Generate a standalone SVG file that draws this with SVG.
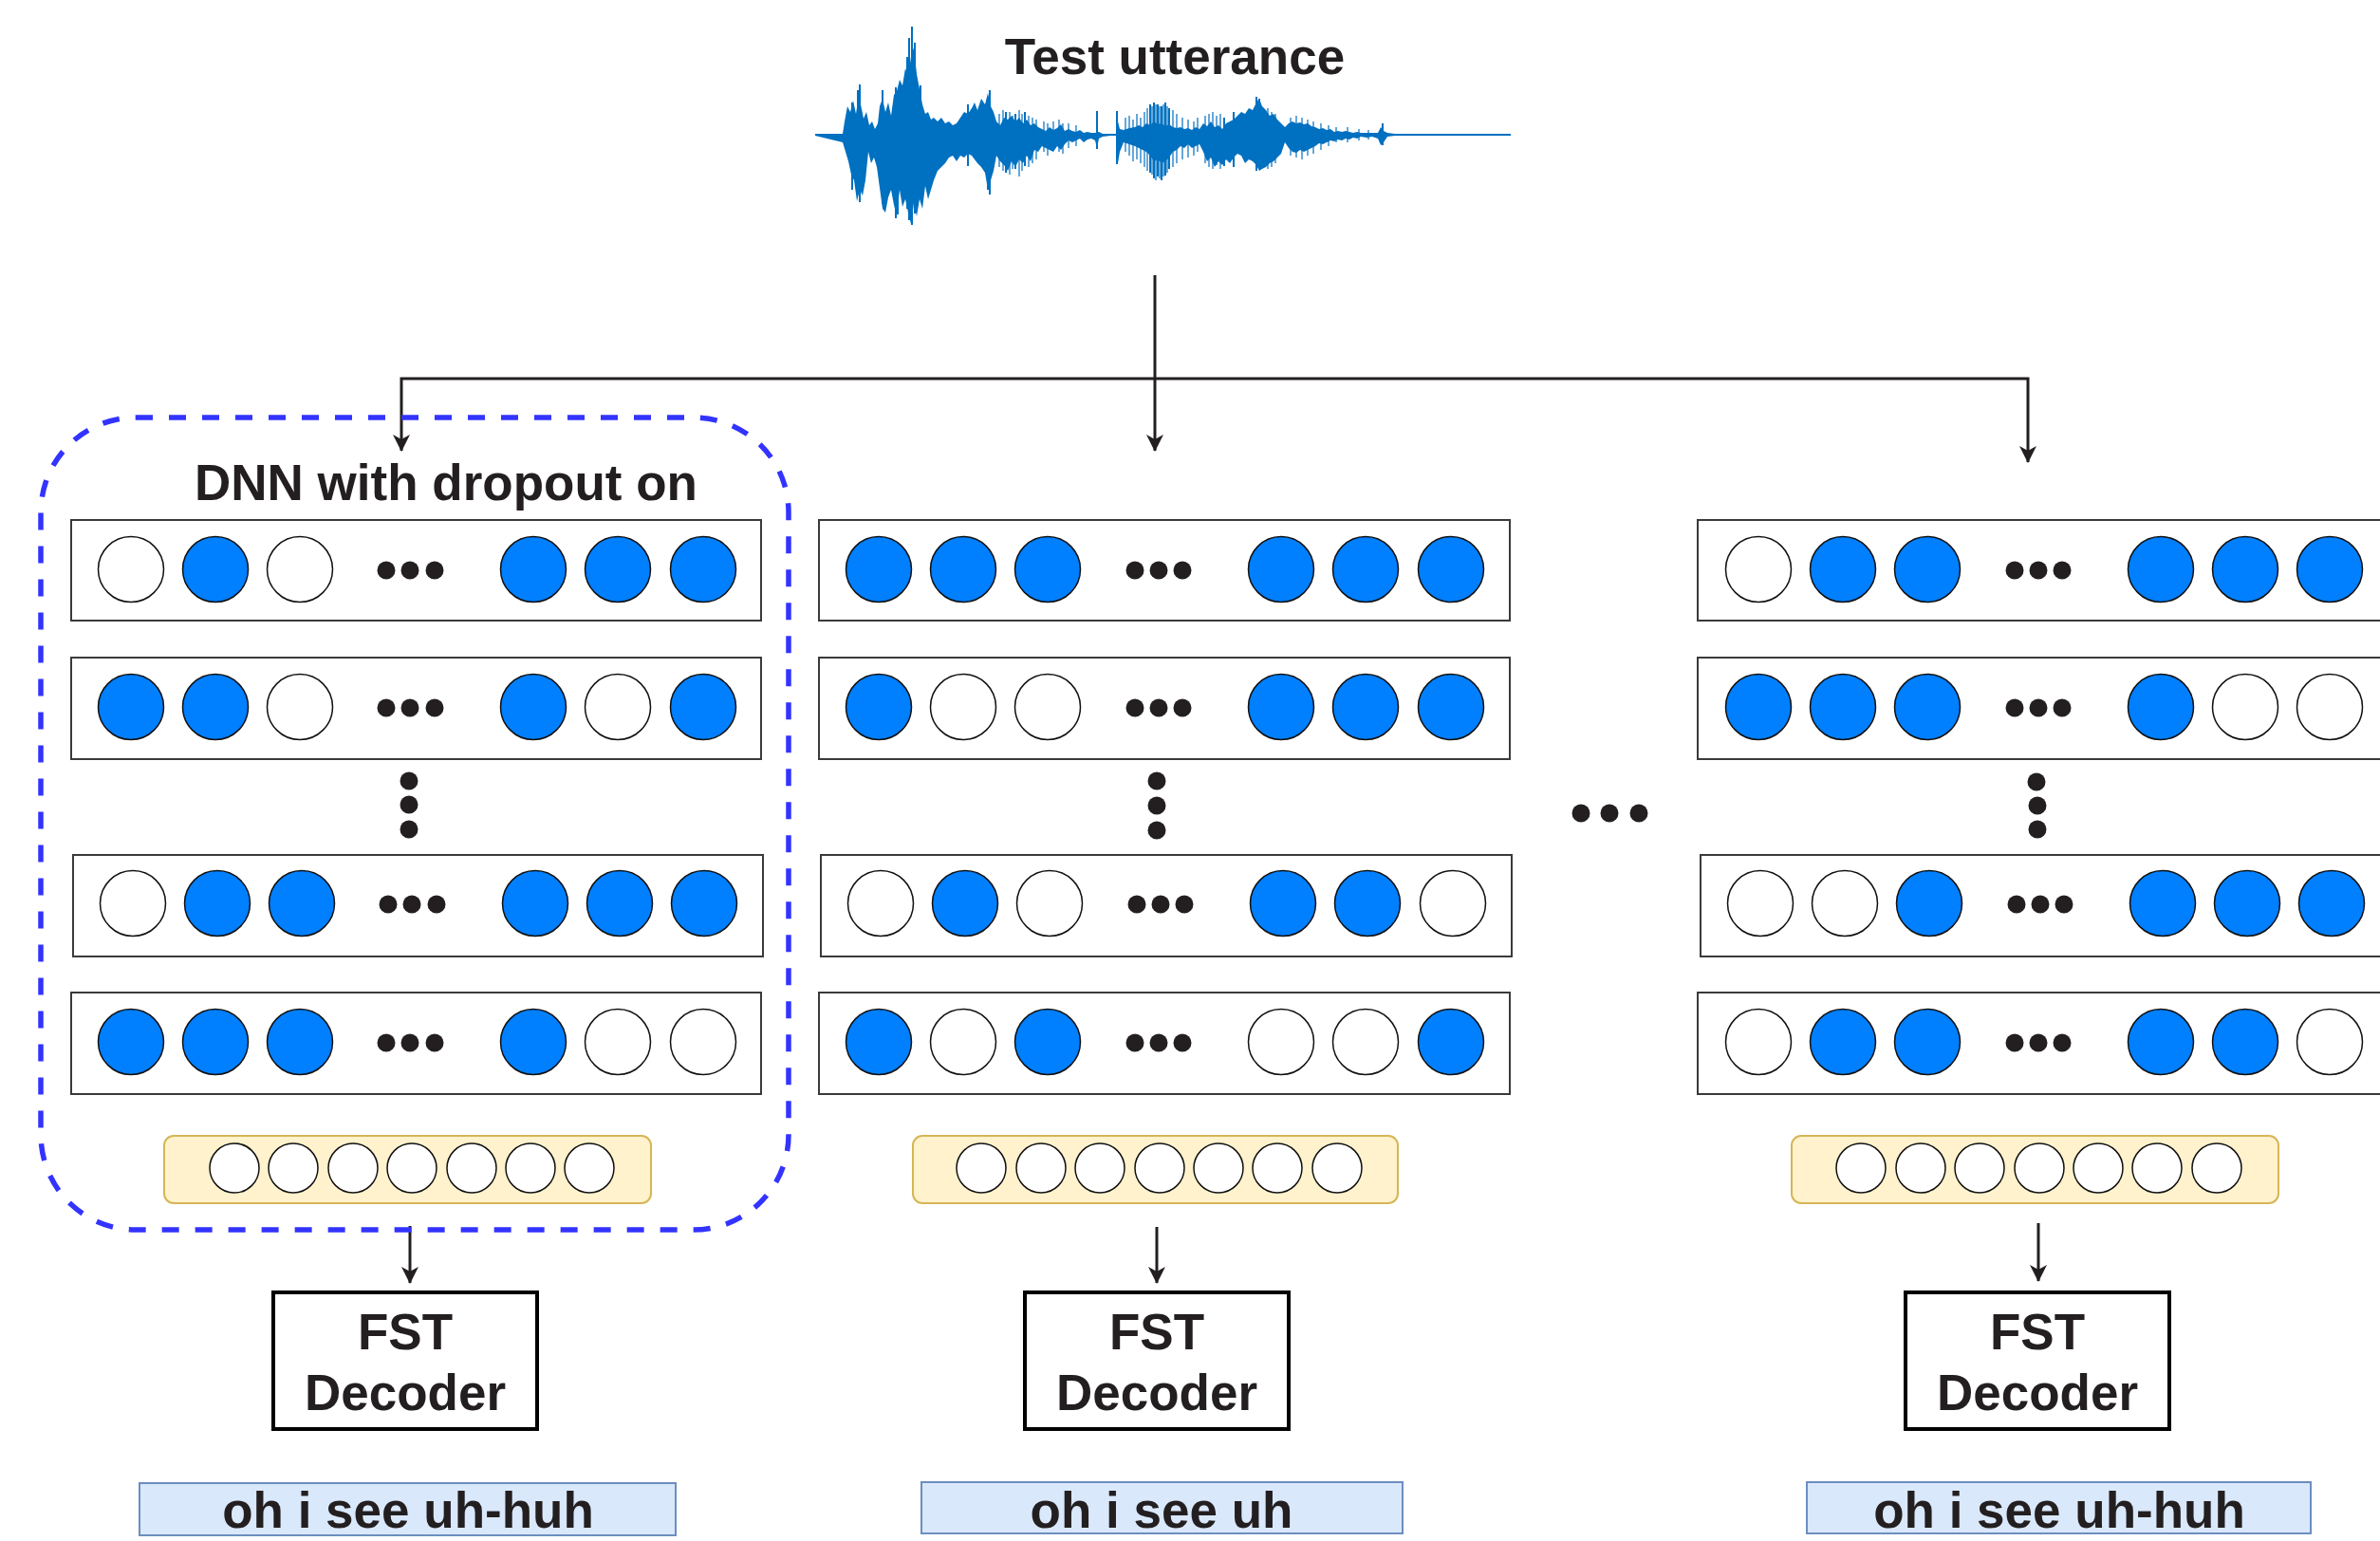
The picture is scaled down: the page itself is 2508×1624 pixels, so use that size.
<svg xmlns="http://www.w3.org/2000/svg" width="2508" height="1624" viewBox="0 0 2508 1624">
<defs>
<style>
.t{font-family:"Liberation Sans",Arial,Helvetica,sans-serif;font-weight:bold;font-size:53px;fill:#231F20;text-anchor:middle}
.layer{fill:#fff;stroke:#3a3a3a;stroke-width:2}
.on{fill:#007FFF;stroke:#111;stroke-width:1.5}
.off{fill:#fff;stroke:#111;stroke-width:1.5}
.dot{fill:#231F20}
.out{fill:#FFF2CC;stroke:#D6B656;stroke-width:2}
.oc{fill:#fff;stroke:#111;stroke-width:1.5}
.fst{fill:#fff;stroke:#000;stroke-width:4}
.res{fill:#DAE8FC;stroke:#6C8EBF;stroke-width:2}
.ln{fill:none;stroke:#231F20;stroke-width:3}
</style>
<marker id="ah" viewBox="0 0 18 18" refX="17" refY="9" markerWidth="18" markerHeight="18" markerUnits="userSpaceOnUse" orient="auto">
<path d="M0,0 L18,9 L0,18 L5,9 Z" fill="#231F20"/>
</marker>
</defs>
<rect width="2508" height="1624" fill="#fff"/>

<g id="test-utterance">
<text class="t" x="1238" y="78">Test utterance</text>
<g id="waveform" fill="#0070C0" stroke="#0070C0">
<line x1="859" y1="142" x2="1592" y2="142" stroke-width="2"/>
<polygon stroke="none" points="859,141 888,141 890,128 893,112 896,118 899,106 902,120 905,100 907,110 910,125 913,118 916,132 919,128 922,136 925,130 927,112 930,104 933,118 936,108 939,122 942,100 945,96 948,84 951,90 954,72 957,80 960,60 963,50 966,78 969,94 972,110 975,120 978,118 981,126 984,124 988,128 992,124 996,130 1000,128 1004,132 1008,130 1012,124 1016,118 1020,120 1024,114 1027,108 1030,116 1034,104 1038,110 1041,98 1044,112 1047,118 1050,128 1054,132 1058,124 1062,126 1066,122 1070,128 1074,124 1078,130 1082,126 1086,132 1090,130 1094,134 1098,136 1102,138 1106,134 1110,137 1114,135 1118,131 1122,138 1126,136 1130,138 1134,139 1138,137 1142,140 1146,139 1150,140 1154,140 1158,139 1162,141 1170,141 1176,141 1178,128 1180,136 1184,137 1190,135 1196,134 1200,132 1204,134 1208,130 1212,132 1216,128 1220,131 1224,130 1228,133 1232,131 1236,134 1240,135 1244,134 1248,136 1252,135 1256,137 1260,134 1264,136 1268,130 1272,133 1276,128 1280,134 1284,132 1288,136 1292,130 1296,128 1300,126 1304,122 1308,118 1312,120 1316,114 1320,116 1324,108 1327,104 1330,112 1334,116 1338,122 1342,120 1346,126 1350,130 1354,134 1358,130 1362,128 1366,130 1370,129 1374,131 1378,130 1382,133 1386,134 1390,136 1394,135 1398,137 1402,136 1406,139 1410,138 1414,139 1418,138 1422,139 1426,140 1430,139 1434,140 1440,140 1446,140 1452,140 1455,134 1458,138 1462,140 1470,141 1480,141 1592,141 1592,143 1480,143 1470,143 1462,144 1458,150 1455,153 1452,146 1446,144 1440,145 1434,144 1430,146 1426,145 1422,147 1418,146 1414,148 1410,147 1406,149 1402,148 1398,150 1394,152 1390,151 1386,154 1382,156 1378,158 1374,160 1370,158 1366,161 1362,160 1358,156 1354,150 1350,162 1346,166 1342,170 1338,172 1334,176 1330,178 1327,180 1324,174 1320,170 1316,168 1312,172 1308,164 1304,162 1300,166 1296,172 1292,168 1288,174 1284,170 1280,176 1276,166 1272,170 1268,160 1264,152 1260,154 1256,156 1252,152 1248,156 1244,154 1240,158 1236,160 1232,166 1228,170 1224,172 1220,168 1216,170 1212,164 1208,160 1204,158 1200,156 1196,154 1190,152 1184,150 1180,160 1178,172 1176,143 1170,143 1162,144 1158,146 1156,156 1154,148 1150,146 1146,147 1142,150 1138,146 1134,148 1130,150 1126,148 1122,152 1118,158 1114,154 1110,160 1106,158 1102,156 1098,154 1094,160 1090,158 1086,170 1082,164 1078,172 1074,168 1070,176 1066,170 1062,180 1058,174 1054,170 1050,164 1047,180 1044,190 1041,200 1038,182 1034,176 1030,172 1027,168 1024,164 1020,162 1016,166 1012,164 1008,170 1004,164 1000,166 996,172 992,176 988,180 984,190 981,200 978,210 975,196 972,220 969,210 966,228 963,214 960,236 957,224 954,210 951,218 948,200 945,228 942,216 939,200 936,208 933,224 930,220 927,198 924,176 921,166 918,172 915,160 912,190 909,206 906,200 903,212 900,190 897,184 894,170 891,160 888,150 859,143"/>
<path fill="none" stroke-width="2" d="M906 89V213M904 95V205M944 92V230M946 100V226M958 40V232M961 28V237M964 45V225M956 60V220M1043 95V205M1041 105V200M1156 117V157M1177 117V173M1212 110V182M1216 108V188M1220 110V186M1224 112V190M1228 108V185M1232 114V178M1300 118V176M1324 102V180M1327 104V178M1457 130V153M898 108V200M930 95V215M970 90V210M1020 110V175M1060 118V182M1070 120V178M1080 118V175M1290 124V175"/>
<path fill="none" stroke-width="1.2" d="M1053 120V176M1057 116V180M1064 118V184M1067 122V178M1074 116V186M1077 120V180M1084 122V176M1088 124V172M1092 126V168M1100 128V160M1104 130V164M1110 128V158M1116 126V160M1120 130V162M1126 130V156M1134 132V154M1186 124V160M1190 122V164M1194 126V170M1198 120V168M1202 124V172M1206 118V176M1209 114V180M1214 112V184M1218 110V190M1222 112V188M1226 110V186M1230 112V182M1236 116V176M1240 120V172M1246 124V168M1252 126V166M1258 128V164M1262 124V160M1270 122V172M1274 120V176M1278 118V178M1282 122V174M1286 120V178M1336 114V178M1340 118V176M1344 120V172M1360 124V164M1366 122V166M1372 124V168M1378 126V164M1384 128V162M1392 130V158M1400 132V154M1408 134V150M1420 134V150M1432 136V148M1442 137V147"/>
</g>
</g>

<g id="connectors">
<path class="ln" d="M1217,290 V475" marker-end="url(#ah)"/>
<path class="ln" d="M1217,399 H423 V475" marker-end="url(#ah)"/>
<path class="ln" d="M1217,399 H2137 V487" marker-end="url(#ah)"/>
<path class="ln" d="M432,1292 V1352" marker-end="url(#ah)"/>
<path class="ln" d="M1219,1293 V1352" marker-end="url(#ah)"/>
<path class="ln" d="M2148,1289 V1350" marker-end="url(#ah)"/>
</g>

<g id="dropout-region">
<rect x="43" y="440" width="788" height="856" rx="100" ry="100" fill="none" stroke="#3333FF" stroke-width="5.5" stroke-dasharray="18 17"/>
<text class="t" x="470" y="527">DNN with dropout on</text>
</g>

<g id="dnn-1">
<rect class="layer" x="75" y="548" width="727" height="106"/>
<circle class="off" cx="138" cy="600" r="34.5"/><circle class="on" cx="227" cy="600" r="34.5"/><circle class="off" cx="316" cy="600" r="34.5"/>
<circle class="dot" cx="407" cy="601" r="9.5"/><circle class="dot" cx="432" cy="601" r="9.5"/><circle class="dot" cx="458" cy="601" r="9.5"/>
<circle class="on" cx="562" cy="600" r="34.5"/><circle class="on" cx="651" cy="600" r="34.5"/><circle class="on" cx="741" cy="600" r="34.5"/>

<rect class="layer" x="75" y="693" width="727" height="107"/>
<circle class="on" cx="138" cy="745" r="34.5"/><circle class="on" cx="227" cy="745" r="34.5"/><circle class="off" cx="316" cy="745" r="34.5"/>
<circle class="dot" cx="407" cy="746" r="9.5"/><circle class="dot" cx="432" cy="746" r="9.5"/><circle class="dot" cx="458" cy="746" r="9.5"/>
<circle class="on" cx="562" cy="745" r="34.5"/><circle class="off" cx="651" cy="745" r="34.5"/><circle class="on" cx="741" cy="745" r="34.5"/>

<circle class="dot" cx="431" cy="823" r="9.5"/><circle class="dot" cx="431" cy="848" r="9.5"/><circle class="dot" cx="431" cy="874" r="9.5"/>

<rect class="layer" x="77" y="901" width="727" height="107"/>
<circle class="off" cx="140" cy="952" r="34.5"/><circle class="on" cx="229" cy="952" r="34.5"/><circle class="on" cx="318" cy="952" r="34.5"/>
<circle class="dot" cx="409" cy="953" r="9.5"/><circle class="dot" cx="434" cy="953" r="9.5"/><circle class="dot" cx="460" cy="953" r="9.5"/>
<circle class="on" cx="564" cy="952" r="34.5"/><circle class="on" cx="653" cy="952" r="34.5"/><circle class="on" cx="742" cy="952" r="34.5"/>

<rect class="layer" x="75" y="1046" width="727" height="107"/>
<circle class="on" cx="138" cy="1098" r="34.5"/><circle class="on" cx="227" cy="1098" r="34.5"/><circle class="on" cx="316" cy="1098" r="34.5"/>
<circle class="dot" cx="407" cy="1099" r="9.5"/><circle class="dot" cx="432" cy="1099" r="9.5"/><circle class="dot" cx="458" cy="1099" r="9.5"/>
<circle class="on" cx="562" cy="1098" r="34.5"/><circle class="off" cx="651" cy="1098" r="34.5"/><circle class="off" cx="741" cy="1098" r="34.5"/>

<rect class="out" x="173" y="1197" width="513" height="71" rx="10"/>
<circle class="oc" cx="247" cy="1231" r="26"/><circle class="oc" cx="309" cy="1231" r="26"/><circle class="oc" cx="372" cy="1231" r="26"/><circle class="oc" cx="434" cy="1231" r="26"/><circle class="oc" cx="497" cy="1231" r="26"/><circle class="oc" cx="559" cy="1231" r="26"/><circle class="oc" cx="621" cy="1231" r="26"/>
</g>

<g id="dnn-2">
<rect class="layer" x="863" y="548" width="728" height="106"/>
<circle class="on" cx="926" cy="600" r="34.5"/><circle class="on" cx="1015" cy="600" r="34.5"/><circle class="on" cx="1104" cy="600" r="34.5"/>
<circle class="dot" cx="1196" cy="601" r="9.5"/><circle class="dot" cx="1221" cy="601" r="9.5"/><circle class="dot" cx="1246" cy="601" r="9.5"/>
<circle class="on" cx="1350" cy="600" r="34.5"/><circle class="on" cx="1439" cy="600" r="34.5"/><circle class="on" cx="1529" cy="600" r="34.5"/>

<rect class="layer" x="863" y="693" width="728" height="107"/>
<circle class="on" cx="926" cy="745" r="34.5"/><circle class="off" cx="1015" cy="745" r="34.5"/><circle class="off" cx="1104" cy="745" r="34.5"/>
<circle class="dot" cx="1196" cy="746" r="9.5"/><circle class="dot" cx="1221" cy="746" r="9.5"/><circle class="dot" cx="1246" cy="746" r="9.5"/>
<circle class="on" cx="1350" cy="745" r="34.5"/><circle class="on" cx="1439" cy="745" r="34.5"/><circle class="on" cx="1529" cy="745" r="34.5"/>

<circle class="dot" cx="1219" cy="823" r="9.5"/><circle class="dot" cx="1219" cy="849" r="9.5"/><circle class="dot" cx="1219" cy="875" r="9.5"/>

<rect class="layer" x="865" y="901" width="728" height="107"/>
<circle class="off" cx="928" cy="952" r="34.5"/><circle class="on" cx="1017" cy="952" r="34.5"/><circle class="off" cx="1106" cy="952" r="34.5"/>
<circle class="dot" cx="1198" cy="953" r="9.5"/><circle class="dot" cx="1223" cy="953" r="9.5"/><circle class="dot" cx="1248" cy="953" r="9.5"/>
<circle class="on" cx="1352" cy="952" r="34.5"/><circle class="on" cx="1441" cy="952" r="34.5"/><circle class="off" cx="1531" cy="952" r="34.5"/>

<rect class="layer" x="863" y="1046" width="728" height="107"/>
<circle class="on" cx="926" cy="1098" r="34.5"/><circle class="off" cx="1015" cy="1098" r="34.5"/><circle class="on" cx="1104" cy="1098" r="34.5"/>
<circle class="dot" cx="1196" cy="1099" r="9.5"/><circle class="dot" cx="1221" cy="1099" r="9.5"/><circle class="dot" cx="1246" cy="1099" r="9.5"/>
<circle class="off" cx="1350" cy="1098" r="34.5"/><circle class="off" cx="1439" cy="1098" r="34.5"/><circle class="on" cx="1529" cy="1098" r="34.5"/>

<rect class="out" x="962" y="1197" width="511" height="71" rx="10"/>
<circle class="oc" cx="1034" cy="1231" r="26"/><circle class="oc" cx="1097" cy="1231" r="26"/><circle class="oc" cx="1159" cy="1231" r="26"/><circle class="oc" cx="1222" cy="1231" r="26"/><circle class="oc" cx="1284" cy="1231" r="26"/><circle class="oc" cx="1346" cy="1231" r="26"/><circle class="oc" cx="1409" cy="1231" r="26"/>
</g>

<g id="ellipsis-between">
<circle class="dot" cx="1666" cy="857" r="9.5"/><circle class="dot" cx="1696" cy="857" r="9.5"/><circle class="dot" cx="1727" cy="857" r="9.5"/>
</g>

<g id="dnn-3">
<rect class="layer" x="1789" y="548" width="740" height="106"/>
<circle class="off" cx="1853" cy="600" r="34.5"/><circle class="on" cx="1942" cy="600" r="34.5"/><circle class="on" cx="2031" cy="600" r="34.5"/>
<circle class="dot" cx="2123" cy="601" r="9.5"/><circle class="dot" cx="2148" cy="601" r="9.5"/><circle class="dot" cx="2173" cy="601" r="9.5"/>
<circle class="on" cx="2277" cy="600" r="34.5"/><circle class="on" cx="2366" cy="600" r="34.5"/><circle class="on" cx="2455" cy="600" r="34.5"/>

<rect class="layer" x="1789" y="693" width="740" height="107"/>
<circle class="on" cx="1853" cy="745" r="34.5"/><circle class="on" cx="1942" cy="745" r="34.5"/><circle class="on" cx="2031" cy="745" r="34.5"/>
<circle class="dot" cx="2123" cy="746" r="9.5"/><circle class="dot" cx="2148" cy="746" r="9.5"/><circle class="dot" cx="2173" cy="746" r="9.5"/>
<circle class="on" cx="2277" cy="745" r="34.5"/><circle class="off" cx="2366" cy="745" r="34.5"/><circle class="off" cx="2455" cy="745" r="34.5"/>

<circle class="dot" cx="2146" cy="824" r="9.5"/><circle class="dot" cx="2147" cy="849" r="9.5"/><circle class="dot" cx="2147" cy="874" r="9.5"/>

<rect class="layer" x="1792" y="901" width="740" height="107"/>
<circle class="off" cx="1855" cy="952" r="34.5"/><circle class="off" cx="1944" cy="952" r="34.5"/><circle class="on" cx="2033" cy="952" r="34.5"/>
<circle class="dot" cx="2125" cy="953" r="9.5"/><circle class="dot" cx="2150" cy="953" r="9.5"/><circle class="dot" cx="2175" cy="953" r="9.5"/>
<circle class="on" cx="2279" cy="952" r="34.5"/><circle class="on" cx="2368" cy="952" r="34.5"/><circle class="on" cx="2457" cy="952" r="34.5"/>

<rect class="layer" x="1789" y="1046" width="740" height="107"/>
<circle class="off" cx="1853" cy="1098" r="34.5"/><circle class="on" cx="1942" cy="1098" r="34.5"/><circle class="on" cx="2031" cy="1098" r="34.5"/>
<circle class="dot" cx="2123" cy="1099" r="9.5"/><circle class="dot" cx="2148" cy="1099" r="9.5"/><circle class="dot" cx="2173" cy="1099" r="9.5"/>
<circle class="on" cx="2277" cy="1098" r="34.5"/><circle class="on" cx="2366" cy="1098" r="34.5"/><circle class="off" cx="2455" cy="1098" r="34.5"/>

<rect class="out" x="1888" y="1197" width="513" height="71" rx="10"/>
<circle class="oc" cx="1961" cy="1231" r="26"/><circle class="oc" cx="2024" cy="1231" r="26"/><circle class="oc" cx="2086" cy="1231" r="26"/><circle class="oc" cx="2149" cy="1231" r="26"/><circle class="oc" cx="2211" cy="1231" r="26"/><circle class="oc" cx="2273" cy="1231" r="26"/><circle class="oc" cx="2336" cy="1231" r="26"/>
</g>

<g id="fst-1">
<rect class="fst" x="288" y="1362" width="278" height="144"/>
<text class="t" x="427" y="1422">FST</text>
<text class="t" x="427" y="1486">Decoder</text>
</g>
<g id="fst-2">
<rect class="fst" x="1080" y="1362" width="278" height="144"/>
<text class="t" x="1219" y="1422">FST</text>
<text class="t" x="1219" y="1486">Decoder</text>
</g>
<g id="fst-3">
<rect class="fst" x="2008" y="1362" width="278" height="144"/>
<text class="t" x="2147" y="1422">FST</text>
<text class="t" x="2147" y="1486">Decoder</text>
</g>

<g id="result-1">
<rect class="res" x="147" y="1563" width="565" height="55"/>
<text class="t" x="430" y="1610">oh i see uh-huh</text>
</g>
<g id="result-2">
<rect class="res" x="971" y="1562" width="507" height="54"/>
<text class="t" x="1224" y="1610">oh i see uh</text>
</g>
<g id="result-3">
<rect class="res" x="1904" y="1562" width="531" height="54"/>
<text class="t" x="2170" y="1610">oh i see uh-huh</text>
</g>
</svg>
